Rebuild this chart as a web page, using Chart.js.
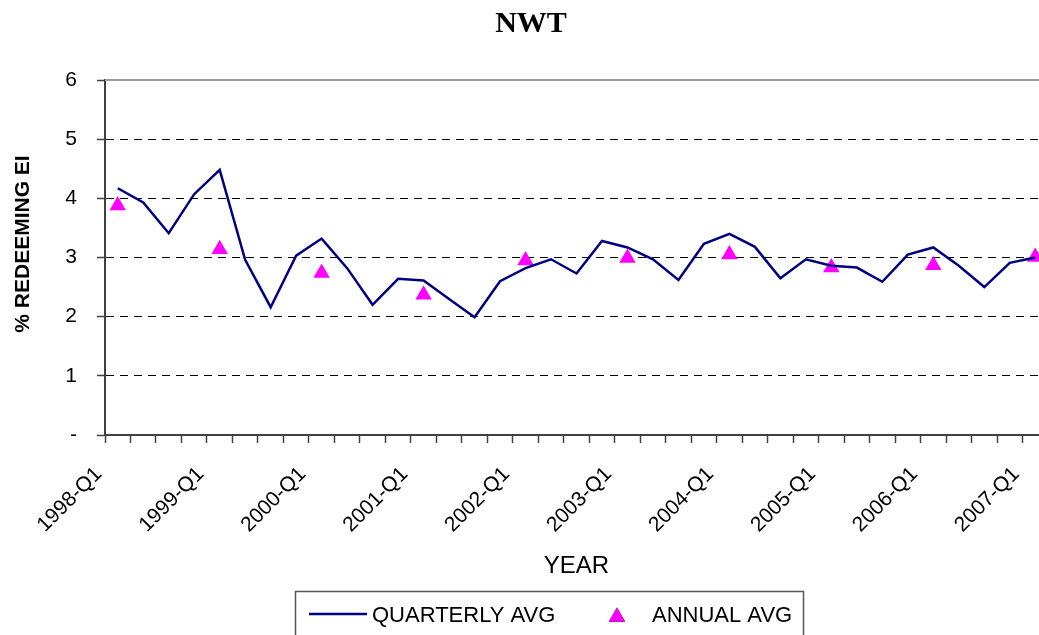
<!DOCTYPE html>
<html>
<head>
<meta charset="utf-8">
<script src="https://cdn.jsdelivr.net/npm/chart.js@4.4.1/dist/chart.umd.min.js"></script>
<style>
html, body { margin: 0; padding: 0; background: #fff; overflow: hidden; }
#wrap { position: relative; width: 1039px; height: 635px; overflow: hidden; }
#wrap canvas { position: absolute; left: 0; top: 0; }
</style>
</head>
<body>
<div id="wrap"><canvas id="nwtChart" width="1048" height="635"></canvas></div>
<script>
// 데이터
const years = [1998, 1999, 2000, 2001, 2002, 2003, 2004, 2005, 2006, 2007];
const quarterLabels = [];
years.forEach(y => {
    const last = (y === 2007) ? 1 : 4;
    for (let q = 1; q <= last; q++) quarterLabels.push(y + '-Q' + q);
});

const quarterlyAvg = [4.17, 3.93, 3.41, 4.07, 4.48, 2.96, 2.16, 3.03, 3.32, 2.82,
                      2.20, 2.64, 2.61, 2.30, 1.99, 2.60, 2.82, 2.97, 2.73, 3.28,
                      3.17, 2.97, 2.62, 3.23, 3.40, 3.18, 2.65, 2.97, 2.86, 2.83,
                      2.59, 3.05, 3.17, 2.86, 2.50, 2.91, 3.00];
const annualAvg = [3.88, 3.14, 2.74, 2.37, 2.95, 2.99, 3.05, 2.83, 2.87, 3.01];
const yTicks = [0, 1, 2, 3, 4, 5, 6];

// 연평균은 각 해의 Q1 위치에 찍음
const annualSeries = quarterLabels.map(() => null);
annualAvg.forEach((v, i) => { annualSeries[i * 4] = v; });

const LINE_COLOR = '#000080';
const MARK_COLOR = '#ff00ff';
const AXIS_COLOR = '#404040';
const FONT = '"Liberation Sans", Arial, sans-serif';

// 위쪽 테두리, y축 제목, 범례 박스
const framePlugin = {
    id: 'framePlugin',
    beforeDatasetsDraw(chart) {
        const {ctx, chartArea} = chart;
        ctx.save();
        ctx.strokeStyle = '#999';
        ctx.lineWidth = 2;
        ctx.beginPath();
        ctx.moveTo(chartArea.left, chartArea.top);
        ctx.lineTo(chartArea.right, chartArea.top);
        ctx.stroke();
        ctx.restore();
    },
    afterDraw(chart) {
        const ctx = chart.ctx;
        const ds = chart.data.datasets;
        ctx.save();

        // y축 제목 (플롯 중앙보다 살짝 위)
        ctx.save();
        ctx.translate(23, 244);
        ctx.rotate(-Math.PI / 2);
        ctx.fillStyle = '#000';
        ctx.font = 'bold 21px ' + FONT;
        ctx.textAlign = 'center';
        ctx.textBaseline = 'middle';
        ctx.fillText('% REDEEMING EI', 0, 0);
        ctx.restore();

        ctx.strokeStyle = '#555';
        ctx.lineWidth = 1.5;
        ctx.strokeRect(295.5, 591.5, 508, 60);

        ctx.strokeStyle = ds[0].borderColor;
        ctx.lineWidth = ds[0].borderWidth;
        ctx.beginPath();
        ctx.moveTo(309, 614);
        ctx.lineTo(367, 614);
        ctx.stroke();

        Chart.helpers.drawPoint(ctx, {
            pointStyle: 'triangle', radius: 9.5, borderWidth: 0
        }, 617, 617);
        ctx.fillStyle = ds[1].backgroundColor;
        ctx.fill();

        ctx.fillStyle = '#000';
        ctx.font = '22px ' + FONT;
        ctx.textBaseline = 'alphabetic';
        ctx.textAlign = 'left';
        ctx.fillText(ds[0].label, 372, 622);
        ctx.fillText(ds[1].label, 652, 622);
        ctx.restore();
    }
};

new Chart(document.getElementById('nwtChart'), {
    type: 'line',
    data: {
        labels: quarterLabels,
        datasets: [{
            label: 'QUARTERLY AVG',
            data: quarterlyAvg,
            borderColor: LINE_COLOR,
            backgroundColor: LINE_COLOR,
            borderWidth: 2.5,
            pointRadius: 0,
            tension: 0
        }, {
            label: 'ANNUAL AVG',
            data: annualSeries,
            showLine: false,
            pointStyle: 'triangle',
            pointRadius: 9.5,
            pointBorderWidth: 0,
            backgroundColor: MARK_COLOR,
            borderColor: MARK_COLOR
        }]
    },
    options: {
        responsive: false,
        animation: false,
        devicePixelRatio: 1,
        layout: { autoPadding: false, padding: { left: 14, right: 0, top: 0, bottom: 0 } },
        plugins: {
            legend: { display: false },
            tooltip: { enabled: false },
            title: {
                display: true,
                text: 'NWT',
                color: '#000',
                font: { family: '"Liberation Serif", "Times New Roman", serif', size: 30, weight: 'bold', lineHeight: 1.2 },
                padding: { top: 6, bottom: 38 }
            }
        },
        scales: {
            x: {
                type: 'category',
                offset: true,
                afterFit: s => { s.height = 200; s.paddingLeft = 0; s.paddingRight = 0; },
                grid: {
                    offset: true,
                    drawOnChartArea: false,
                    drawTicks: true,
                    tickLength: 8,
                    tickColor: AXIS_COLOR,
                    tickWidth: 1.5
                },
                border: { display: true, color: AXIS_COLOR, width: 2 },
                ticks: {
                    autoSkip: false,
                    minRotation: 45,
                    maxRotation: 45,
                    padding: 19,
                    labelOffset: -19,
                    color: '#000',
                    font: { family: FONT, size: 21 },
                    callback: function (val, i) {
                        return (i % 4 === 0) ? this.getLabelForValue(val) : '';
                    }
                },
                title: {
                    display: true,
                    text: 'YEAR',
                    color: '#000',
                    font: { family: FONT, size: 24, lineHeight: 1.2 },
                    padding: { top: 0, bottom: 54 }
                }
            },
            y: {
                min: 0,
                max: 6,
                afterFit: s => { s.width = 91; },
                afterBuildTicks: s => { s.ticks = yTicks.map(v => ({ value: v })); },
                grid: {
                    drawTicks: true,
                    tickLength: 8,
                    tickColor: AXIS_COLOR,
                    tickWidth: 1.5,
                    color: ctx => (ctx.tick && (ctx.tick.value === 0 || ctx.tick.value === 6)) ? 'rgba(0,0,0,0)' : '#000',
                    lineWidth: 1
                },
                border: { display: true, color: AXIS_COLOR, width: 2, dash: [8, 6] },
                ticks: {
                    padding: 20,
                    color: '#000',
                    font: { family: FONT, size: 21 },
                    callback: v => (v === 0 ? '-' : String(v))
                },
                title: { display: false }
            }
        }
    },
    plugins: [framePlugin]
});
</script>
</body>
</html>
